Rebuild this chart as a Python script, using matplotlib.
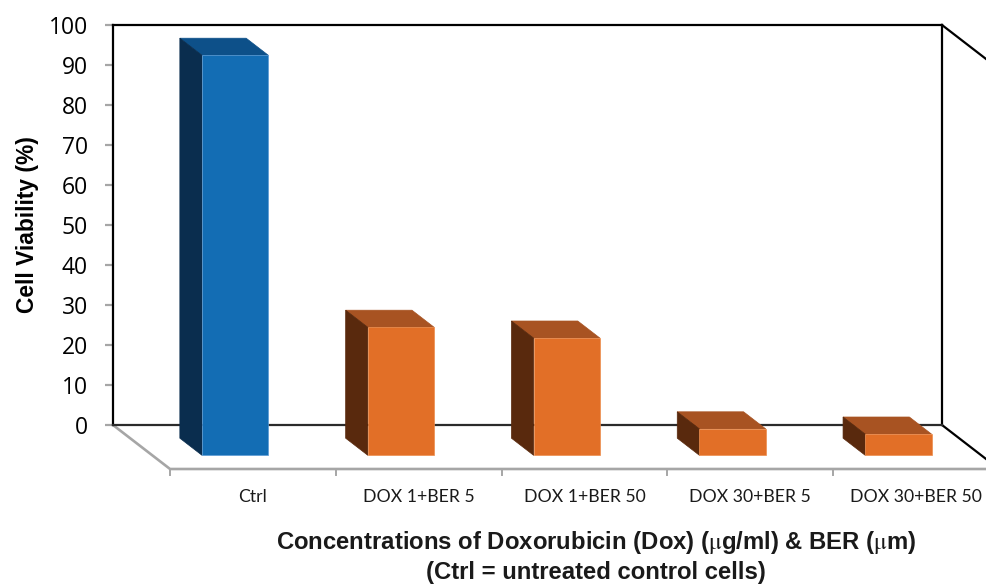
import matplotlib
matplotlib.use("Agg")
import matplotlib.pyplot as plt

categories = ["Ctrl", "DOX 1+BER 5", "DOX 1+BER 50", "DOX 30+BER 5", "DOX 30+BER 50"]
viability = [100, 32, 29.3, 6.6, 5.3]
y_ticks = [0, 10, 20, 30, 40, 50, 60, 70, 80, 90, 100]

W, H = 987, 584
# depth of the floor, in category widths and y units
depth_x = 0.344
depth_y = -11
bar_w = 0.40
z_back, z_front = 0.30, 0.69

plt.rcParams["mathtext.fontset"] = "stix"


def proj(x, y, z):
    return x + z * depth_x, y + z * depth_y


def face(ax, pts, color, edge):
    xs = [p[0] for p in pts]
    ys = [p[1] for p in pts]
    ax.fill(xs, ys, facecolor=color, edgecolor=edge, linewidth=0.5, clip_on=False, zorder=4)


fig = plt.figure(figsize=(W / 100, H / 100), dpi=100)
# the axes is the back wall of the 3D chart
ax = fig.add_axes([113 / W, 1 - 425 / H, 829 / W, 400 / H])
ax.set_xlim(-0.5, 4.5)
ax.set_ylim(0, 100)
ax.patch.set_visible(False)
for s in ["left", "top", "right"]:
    ax.spines[s].set_linewidth(1.6)
    ax.spines[s].set_color("black")
ax.spines["bottom"].set_linewidth(1.6)
ax.spines["bottom"].set_color("#2b2b2b")

ax.set_xticks([])
ax.set_yticks(y_ticks)
ax.tick_params(axis="y", length=6, width=1.6, color="#a6a6a6", pad=12, labelsize=16.5, labelcolor="black")
for lab in ax.get_yticklabels():
    lab.set_fontfamily("Open Sans")

# right side wall runs off the image
ax.plot([4.5, 4.5 + depth_x], [100, 100 + depth_y], color="black", lw=1.6, clip_on=False, zorder=2)
ax.plot([4.5, 4.5 + depth_x], [0, depth_y], color="black", lw=1.6, clip_on=False, zorder=2)

# floor, grey
ax.plot([-0.5, -0.5 + depth_x, 4.5 + depth_x], [0, depth_y, depth_y], color="#a6a6a6", lw=1.9,
        clip_on=False, zorder=2, solid_joinstyle="miter")
for i in range(len(categories)):
    tx = i - 0.5 + depth_x
    ax.plot([tx, tx], [depth_y, depth_y - 1.6], color="#a6a6a6", lw=1.4, clip_on=False, zorder=2)
    ax.text(tx + 0.5, depth_y - 6.9, categories[i], ha="center", va="center", fontsize=12.7,
            family="Lato", color="#1a1a1a", clip_on=False)

bar_colors = [("#136db4", "#0a2d4e", "#0d5089", "#5b9bd5")] + [("#e26f27", "#59290d", "#a85322", "#ed8d4d")] * 4

for i, v in enumerate(viability):
    front, side, top, edge = bar_colors[i]
    l, r = i - bar_w / 2, i + bar_w / 2
    # top
    face(ax, [proj(l, v, z_back), proj(r, v, z_back), proj(r, v, z_front), proj(l, v, z_front)], top, top)
    # left side
    face(ax, [proj(l, 0, z_back), proj(l, v, z_back), proj(l, v, z_front), proj(l, 0, z_front)], side, side)
    # front
    face(ax, [proj(l, 0, z_front), proj(l, v, z_front), proj(r, v, z_front), proj(r, 0, z_front)], front, edge)

ax.set_ylabel("Cell Viability (%)", fontsize=16.4, fontweight="bold", family="Liberation Sans", labelpad=7)
fig.text(596 / W, 1 - 542 / H, r"Concentrations of Doxorubicin (Dox) ($\mathrm{\mu}$g/ml) & BER ($\mathrm{\mu}$m)", ha="center", va="center",
         fontsize=17.2, fontweight="bold", family="Liberation Sans", color="#1a1a1a")
fig.text(596 / W, 1 - 572 / H, "(Ctrl = untreated control cells)", ha="center", va="center",
         fontsize=17.2, fontweight="bold", family="Liberation Sans", color="#1a1a1a")

fig.savefig("out.png", dpi=100)
